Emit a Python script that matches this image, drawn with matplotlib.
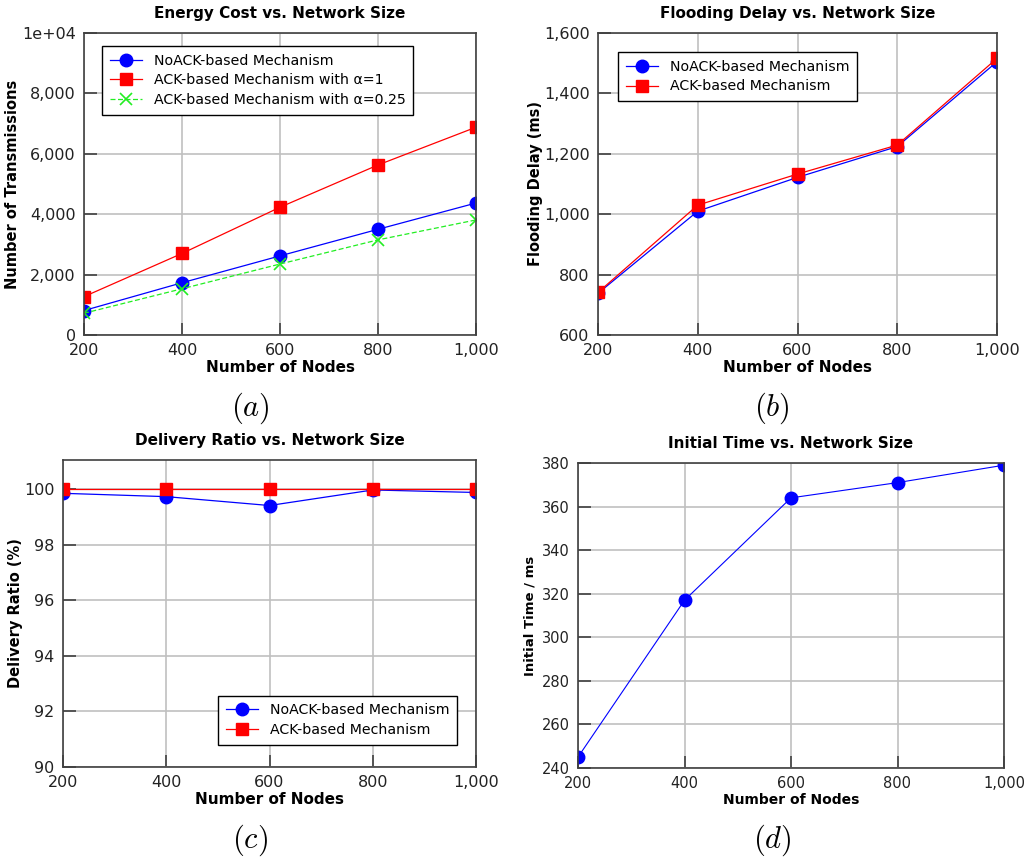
import numpy as np
import matplotlib
matplotlib.use('Agg')
import matplotlib.pyplot as plt
from matplotlib.ticker import FuncFormatter

plt.rcParams['font.family'] = 'DejaVu Sans'
plt.rcParams['mathtext.fontset'] = 'cm'

nodes = [200, 400, 600, 800, 1000]

# (a) transmissions
energy_noack = [810, 1730, 2620, 3500, 4370]
energy_ack_a1 = [1270, 2700, 4230, 5630, 6880]
energy_ack_a025 = [720, 1530, 2350, 3150, 3810]

# (b) flooding delay, ms
delay_noack = [738, 1010, 1122, 1224, 1505]
delay_ack = [741, 1030, 1133, 1229, 1516]

# (c) delivery ratio, %
ratio_noack = [99.86, 99.74, 99.42, 99.98, 99.89]
ratio_ack = [100.0, 100.0, 100.0, 100.0, 100.0]

# (d) initial time, ms
init_time = [245, 317, 364, 371, 379]

W, H = 1030, 859
fig = plt.figure(figsize=(W / 100, H / 100), dpi=100)


def box(l, t, r, b):
    return [l / W, 1 - b / H, (r - l) / W, (b - t) / H]


comma = FuncFormatter(lambda v, p: f'{int(v):,}')


def style(ax, title, ylabel, xlabel='Number of Nodes'):
    ax.set_xlim(200, 1000)
    ax.set_xticks(nodes)
    ax.xaxis.set_major_formatter(comma)
    ax.grid(True, color='#c0c0c0', linewidth=1.2)
    ax.set_axisbelow(True)
    ax.tick_params(direction='in', length=9, width=1.2, color='#404040',
                   labelsize=11.5, labelcolor='#222222', pad=6)
    for s in ax.spines.values():
        s.set_color('#404040')
        s.set_linewidth(1.2)
    ax.set_title(title, fontsize=11, fontweight='bold', pad=11)
    ax.set_xlabel(xlabel, fontsize=11, fontweight='bold', labelpad=1)
    ax.set_ylabel(ylabel, fontsize=10.5, fontweight='bold', labelpad=1)


def legend(ax, loc, anchor):
    leg = ax.legend(loc=loc, bbox_to_anchor=anchor, fontsize=10.2, fancybox=False,
                    framealpha=1, edgecolor='black', handlelength=2.3,
                    borderpad=0.55, labelspacing=0.4, handletextpad=0.8,
                    borderaxespad=0)
    leg.get_frame().set_linewidth(1.0)


blue = dict(color='#0000ff', marker='o', markersize=9, linewidth=0.9)
red = dict(color='#ff0000', marker='s', markersize=8.5, linewidth=0.9)
green = dict(color='#22ee22', marker='x', markersize=8, linewidth=0.9,
             linestyle=(0, (4, 2)), markeredgewidth=1.2)

# (a)
ax = fig.add_axes(box(84, 33, 476, 335))
ax.plot(nodes, energy_noack, label='NoACK-based Mechanism', **blue)
ax.plot(nodes, energy_ack_a1, label='ACK-based Mechanism with α=1', **red)
ax.plot(nodes, energy_ack_a025, label='ACK-based Mechanism with α=0.25', **green)
ax.set_ylim(0, 10000)
ax.set_yticks([0, 2000, 4000, 6000, 8000, 10000])
ax.set_yticklabels(['0', '2,000', '4,000', '6,000', '8,000', '1e+04'])
style(ax, 'Energy Cost vs. Network Size', 'Number of Transmissions')
legend(ax, 'upper left', (0.046, 0.957))
fig.text(250 / W, 1 - 408 / H, r'$(a)$', fontsize=22, ha='center', va='center')

# (b)
ax = fig.add_axes(box(598, 33, 997, 335))
ax.plot(nodes, delay_noack, label='NoACK-based Mechanism', **blue)
ax.plot(nodes, delay_ack, label='ACK-based Mechanism', **red)
ax.set_ylim(600, 1600)
ax.set_yticks([600, 800, 1000, 1200, 1400, 1600])
ax.yaxis.set_major_formatter(comma)
style(ax, 'Flooding Delay vs. Network Size', 'Flooding Delay (ms)')
legend(ax, 'upper left', (0.05, 0.937))
fig.text(772 / W, 1 - 408 / H, r'$(b)$', fontsize=22, ha='center', va='center')

# (c)
ax = fig.add_axes(box(63, 460, 476, 767))
ax.plot(nodes, ratio_noack, label='NoACK-based Mechanism', **blue)
ax.plot(nodes, ratio_ack, label='ACK-based Mechanism', **red)
ax.set_ylim(90, 101.06)
ax.set_yticks([90, 92, 94, 96, 98, 100])
style(ax, 'Delivery Ratio vs. Network Size', 'Delivery Ratio (%)')
legend(ax, 'lower right', (0.954, 0.072))
fig.text(250 / W, 1 - 840 / H, r'$(c)$', fontsize=22, ha='center', va='center')

# (d)
ax = fig.add_axes(box(578, 463, 1004, 768))
ax.plot(nodes, init_time, **dict(blue, linewidth=0.8))
ax.set_ylim(240, 380)
ax.set_yticks(range(240, 381, 20))
style(ax, 'Initial Time vs. Network Size', 'Initial Time / ms')
ax.tick_params(labelsize=10.5)
ax.yaxis.label.set_size(9.5)
ax.yaxis.labelpad = 4
ax.xaxis.label.set_size(10)
fig.text(772 / W, 1 - 840 / H, r'$(d)$', fontsize=22, ha='center', va='center')

fig.savefig('out.png', dpi=100)
